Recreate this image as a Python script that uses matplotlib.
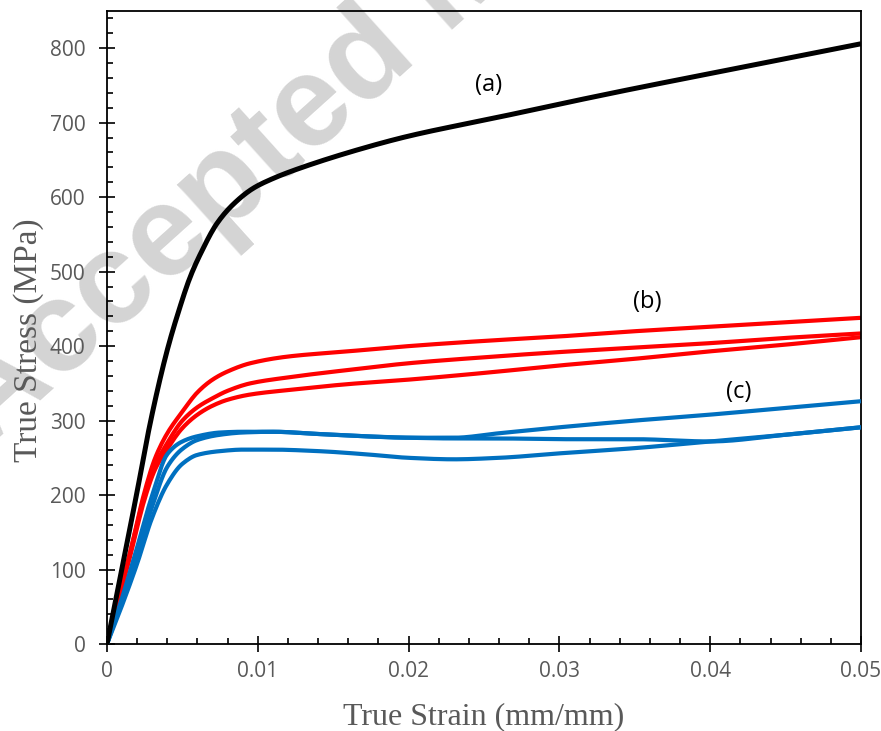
import matplotlib
matplotlib.use("Agg")
import matplotlib.pyplot as plt
from matplotlib.ticker import MultipleLocator, FixedLocator
import numpy as np

# ---------------- data ----------------
strain_a = [0, 0.001, 0.002, 0.0029, 0.0040, 0.0048, 0.0055, 0.0062, 0.0073, 0.0084, 0.0097,
            0.011, 0.0128, 0.0172, 0.020, 0.0261, 0.030, 0.035, 0.040, 0.045, 0.050]
stress_a = [0, 102, 205, 300, 395, 450, 492, 524, 565, 591, 612,
            625, 639, 667, 682, 708, 725, 746, 766, 786, 806]

strain_b = [0, 0.0015, 0.0025, 0.0032, 0.004, 0.005, 0.006, 0.007, 0.008, 0.0095,
            0.012, 0.016, 0.020, 0.025, 0.030, 0.035, 0.040, 0.045, 0.050]
stress_b1 = [0, 120, 205, 250, 283, 312, 338, 355, 366, 377,
             386, 393, 400, 407, 413, 420, 426, 432, 438]
stress_b2 = [0, 120, 200, 240, 270, 300, 318, 330, 340, 350,
             358, 368, 377, 385, 392, 398, 404, 411, 417]
stress_b3 = [0, 115, 195, 235, 262, 290, 308, 320, 328, 335,
             341, 349, 355, 364, 374, 383, 393, 402, 412]

strain_c = [0, 0.001, 0.002, 0.003, 0.004, 0.005, 0.006, 0.0075, 0.009, 0.011,
            0.014, 0.017, 0.020, 0.023, 0.026, 0.030, 0.035, 0.040, 0.045, 0.050]
stress_c1 = [0, 62, 130, 200, 255, 272, 279, 284, 285, 285,
             282, 279, 277, 277, 283, 291, 300, 308, 317, 326]
stress_c2 = [0, 58, 120, 185, 238, 262, 274, 281, 284, 285,
             282, 279, 277, 276, 276, 275, 275, 272, 281, 291]
stress_c3 = [0, 52, 108, 170, 215, 242, 254, 259, 261, 261,
             259, 255, 250, 248, 250, 256, 263, 272, 281, 291]

labels = ["(a)", "(b)", "(c)"]
label_pos = [(0.0253, 750), (0.0358, 459), (0.0419, 339)]

x_ticks = [0, 0.01, 0.02, 0.03, 0.04, 0.05]
x_ticklabels = ["0", "0.01", "0.02", "0.03", "0.04", "0.05"]
y_ticks = [0, 100, 200, 300, 400, 500, 600, 700, 800]

# ---------------- figure ----------------
W, H = 881, 731
fig = plt.figure(figsize=(W / 100, H / 100), dpi=100)
ax = fig.add_axes([107 / W, 1 - 644 / H, (861 - 107) / W, (644 - 11) / H])
ax.set_facecolor("none")

# watermark behind everything
fig.text(-12 / W, 1 - 448 / H, "Accepted Manuscript", fontsize=93, fontweight="bold",
         family="Liberation Sans", color="#D4D4D4", rotation=42,
         rotation_mode="anchor", ha="left", va="baseline", zorder=-5)

def smooth(xs, ys, n=400):
    xs = np.asarray(xs, float)
    ys = np.asarray(ys, float)
    xx = np.linspace(xs[0], xs[-1], n)
    h = np.diff(xs)
    d = np.diff(ys) / h
    m = np.zeros_like(ys)
    for k in range(1, len(xs) - 1):
        if d[k - 1] * d[k] > 0:
            w1 = 2 * h[k] + h[k - 1]
            w2 = h[k] + 2 * h[k - 1]
            m[k] = (w1 + w2) / (w1 / d[k - 1] + w2 / d[k])
        else:
            m[k] = 0.0
    m[0] = d[0]
    m[-1] = d[-1]
    idx = np.clip(np.searchsorted(xs, xx) - 1, 0, len(xs) - 2)
    t = (xx - xs[idx]) / h[idx]
    h00 = 2 * t**3 - 3 * t**2 + 1
    h10 = t**3 - 2 * t**2 + t
    h01 = -2 * t**3 + 3 * t**2
    h11 = t**3 - t**2
    yy = h00 * ys[idx] + h10 * h[idx] * m[idx] + h01 * ys[idx + 1] + h11 * h[idx] * m[idx + 1]
    return xx, yy

blue = "#0070C0"
red = "#FF0000"
for s in [stress_c1, stress_c2, stress_c3]:
    ax.plot(*smooth(strain_c, s), color=blue, lw=3.0, solid_capstyle="butt", zorder=3)
for s in [stress_b1, stress_b2, stress_b3]:
    ax.plot(*smooth(strain_b, s), color=red, lw=3.0, solid_capstyle="butt", zorder=2)
ax.plot(*smooth(strain_a, stress_a), color="black", lw=3.6, solid_capstyle="butt", zorder=4)

for t, (xv, yv) in zip(labels, label_pos):
    ax.text(xv, yv, t, fontsize=17, family="Open Sans", color="black", ha="center", va="center")

ax.set_xlim(0, 0.05)
ax.set_ylim(0, 850)

ax.xaxis.set_major_locator(FixedLocator(x_ticks))
ax.set_xticklabels(x_ticklabels)
ax.xaxis.set_minor_locator(MultipleLocator(0.002))
ax.yaxis.set_major_locator(FixedLocator(y_ticks))
ax.yaxis.set_minor_locator(MultipleLocator(20))

ax.tick_params(axis="both", which="major", direction="inout", length=11, width=1.2,
               color="black", labelcolor="#595959", labelsize=15)
ax.tick_params(axis="both", which="minor", direction="in", length=4.3, width=1.2, color="black")
ax.tick_params(axis="y", which="major", pad=10)
ax.tick_params(axis="x", which="major", pad=7)
for lab in ax.get_xticklabels() + ax.get_yticklabels():
    lab.set_family("Open Sans")

for sp in ax.spines.values():
    sp.set_linewidth(1.3)
    sp.set_color("black")

ax.set_xlabel("True Strain (mm/mm)", fontsize=23, family="Liberation Serif",
              color="#595959", labelpad=14)
ax.set_ylabel("True Stress (MPa)", fontsize=24, family="Liberation Serif",
              color="#595959")
ax.yaxis.set_label_coords(-0.083, 0.48)

fig.savefig("out.png", dpi=100)
